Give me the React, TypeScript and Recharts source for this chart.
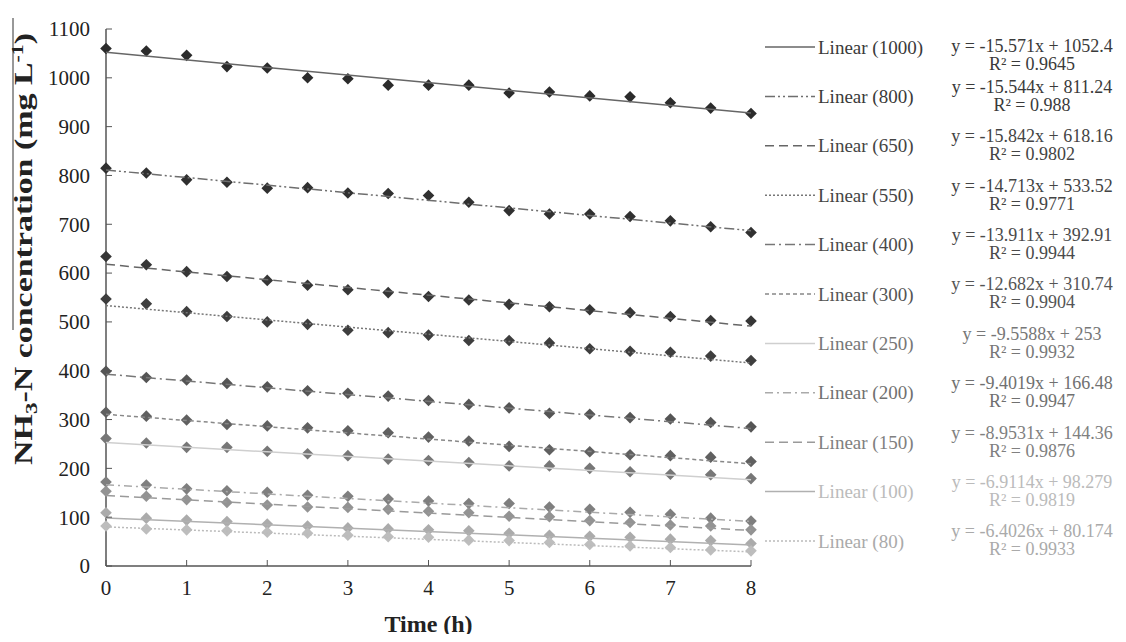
import React from "react";
import { ComposedChart, Scatter, XAxis, YAxis, Legend } from "recharts";

// sampling times (h)
const hours = [0, 0.5, 1, 1.5, 2, 2.5, 3, 3.5, 4, 4.5, 5, 5.5, 6, 6.5, 7, 7.5, 8];
const hourTicks = [0, 1, 2, 3, 4, 5, 6, 7, 8];
const concTicks = [0, 100, 200, 300, 400, 500, 600, 700, 800, 900, 1000, 1100];

// initial NH3-N level of each run (mg/L)
const initialConc = [1000, 800, 650, 550, 400, 300, 250, 200, 150, 100, 80];

const c1000 = [1060, 1055, 1046, 1023, 1020, 1000, 998, 985, 985, 985, 969, 971, 963, 961, 949, 938, 927];
const c800 = [815, 805, 791, 786, 774, 775, 764, 763, 759, 745, 728, 721, 721, 716, 707, 695, 683];
const c650 = [634, 617, 603, 593, 585, 575, 566, 560, 552, 545, 536, 531, 525, 519, 511, 503, 502];
const c550 = [547, 537, 521, 511, 500, 495, 483, 478, 473, 462, 462, 457, 445, 440, 438, 430, 421];
const c400 = [399, 386, 381, 374, 367, 359, 354, 348, 339, 331, 324, 313, 311, 304, 301, 294, 285];
const c300 = [315, 307, 299, 290, 287, 283, 277, 273, 264, 256, 245, 238, 234, 228, 226, 223, 214];
const c250 = [261, 252, 243, 243, 235, 230, 226, 219, 216, 212, 205, 205, 200, 193, 188, 187, 179];
const c200 = [172, 166, 158, 154, 151, 145, 143, 137, 133, 128, 128, 121, 116, 110, 106, 98, 92];
const c150 = [153, 143, 136, 130, 125, 121, 120, 116, 112, 109, 102, 101, 93, 89, 84, 82, 74];
const c100 = [109, 98, 94, 91, 86, 82, 78, 76, 74, 72, 67, 63, 61, 59, 55, 52, 46];
const c80 = [82, 76, 74, 72, 69, 67, 63, 60, 59, 53, 52, 48, 44, 41, 38, 33, 31];
const measured = [c1000, c800, c650, c550, c400, c300, c250, c200, c150, c100, c80];

// linear fits as printed in the legend
const slopes = [-15.571, -15.544, -15.842, -14.713, -13.911, -12.682, -9.5588, -9.4019, -8.9531, -6.9114, -6.4026];
const intercepts = [1052.4, 811.24, 618.16, 533.52, 392.91, 310.74, 253, 166.48, 144.36, 98.279, 80.174];
const rSquared = ["0.9645", "0.988", "0.9802", "0.9771", "0.9944", "0.9904", "0.9932", "0.9947", "0.9876", "0.9819", "0.9933"];

// styles
const SERIF = '"Liberation Serif", "Times New Roman", Times, serif';
const AXIS = "#555";
const markerFill = ["#2b2b2b", "#303030", "#363636", "#3e3e3e", "#555", "#606060", "#777", "#7f7f7f", "#939393", "#ababab", "#bdbdbd"];
const trendStroke = ["#666", "#6e6e6e", "#666", "#777", "#777", "#888", "#cfcfcf", "#aaa", "#9a9a9a", "#b0b0b0", "#bbb"];
const trendDash = ["", "10 3 2 3 2 3", "9 5", "2 2", "10 4 2 4", "4 3", "", "8 4 2 4", "9 5", "", "2 2"];
const textFill = ["#3a3a3a", "#3a3a3a", "#444", "#444", "#4a4a4a", "#555", "#777", "#707070", "#808080", "#bbb", "#aaa"];

const X_GAP = 14;
const Y_GAP = 16;

const XTick = (props: any) => {
  const { x, y, payload } = props;
  const axisY = y - X_GAP;
  return (
    <g>
      <line x1={x} x2={x} y1={axisY} y2={axisY - 6} stroke={AXIS} />
      <text x={x} y={y} dy="0.71em" textAnchor="middle" style={{ fontFamily: SERIF, fontSize: 21, fill: "#222" }}>
        {payload.value}
      </text>
    </g>
  );
};

const YTick = (props: any) => {
  const { x, y, payload } = props;
  const axisX = x + Y_GAP;
  return (
    <g>
      <line x1={axisX} x2={axisX + 6} y1={y} y2={y} stroke={AXIS} />
      <text x={x} y={y} dy="0.35em" textAnchor="end" style={{ fontFamily: SERIF, fontSize: 21, fill: "#222" }}>
        {payload.value}
      </text>
    </g>
  );
};

const YLabel = () => {
  const cx = 15;
  const cy = 241;
  return (
    <g>
      <line x1={5} x2={5} y1={10} y2={322} stroke="#333" strokeWidth={1} />
      <text
        x={cx}
        y={cy}
        dy="0.35em"
        transform={`rotate(-90 ${cx} ${cy})`}
        textAnchor="middle"
        style={{ fontFamily: SERIF, fontWeight: "bold", fontSize: 25, fill: "#222" }}
        textLength={432}
        lengthAdjust="spacingAndGlyphs"
      >
        NH<tspan dy={5} fontSize={17}>3</tspan>
        <tspan dy={-5}>-N concentration (mg L</tspan>
        <tspan dy={-9} fontSize={16}>-1</tspan>
        <tspan dy={9}>)</tspan>
      </text>
    </g>
  );
};

const Diamond = (fill: string) => (props: any) => {
  const { cx, cy } = props;
  if (cx == null || cy == null) return <g />;
  const r = 5.8;
  return <polygon points={`${cx},${cy - r} ${cx + r},${cy} ${cx},${cy + r} ${cx - r},${cy}`} fill={fill} />;
};

const TrendLegend = () => (
  <svg width={361} height={600} style={{ display: "block" }}>
    {initialConc.map((c, i) => {
      const rowY = 39 + i * 49.4;
      const eqY = i === 0 ? rowY - 1 : rowY - 10;
      const txt = { fontFamily: SERIF, fontSize: 18, fill: textFill[i] };
      return (
        <g key={c}>
          <line x1={0} x2={50} y1={rowY} y2={rowY} stroke={trendStroke[i]} strokeWidth={1.5} strokeDasharray={trendDash[i] || undefined} />
          <text x={53} y={rowY} dy="0.35em" style={{ ...txt, fontSize: 19 }}>{`Linear (${c})`}</text>
          <text x={267} y={eqY} dy="0.35em" textAnchor="middle" style={txt}>
            {`y = ${slopes[i]}x + ${intercepts[i]}`}
          </text>
          <text x={267} y={eqY + 18} dy="0.35em" textAnchor="middle" style={txt}>
            {`R² = ${rSquared[i]}`}
          </text>
        </g>
      );
    })}
  </svg>
);

export default function App() {
  const first = hours[0];
  const last = hours[hours.length - 1];
  const series = initialConc.map((c, i) => ({
    name: `${c}`,
    points: hours.map((h, j) => ({ x: h, y: measured[i][j] })),
    trend: [first, last].map((h) => ({ x: h, y: slopes[i] * h + intercepts[i] })),
  }));

  return (
    <div style={{ width: 1110, height: 626 }}>
      <ComposedChart width={1110} height={634} margin={{ top: 21, right: 367, bottom: 2, left: 38 }}>
        <XAxis
          type="number"
          dataKey="x"
          domain={[0, 8]}
          ticks={hourTicks}
          tickSize={0}
          tickMargin={X_GAP}
          tick={<XTick />}
          axisLine={{ stroke: AXIS, strokeWidth: 1.5 }}
          height={74}
          label={{
            value: "Time (h)",
            position: "insideBottom",
            offset: 8,
            style: { fontFamily: SERIF, fontWeight: "bold", fontSize: 24, fill: "#222" },
          }}
        />
        <XAxis
          xAxisId="top"
          orientation="top"
          type="number"
          domain={[0, 8]}
          tick={false}
          tickLine={false}
          height={0}
          axisLine={{ stroke: AXIS, strokeWidth: 1.5 }}
        />
        <YAxis
          type="number"
          dataKey="y"
          domain={[0, 1100]}
          ticks={concTicks}
          tickSize={0}
          tickMargin={Y_GAP}
          tick={<YTick />}
          axisLine={{ stroke: AXIS, strokeWidth: 1.5 }}
          width={60}
          label={<YLabel />}
        />
        <YAxis
          yAxisId="right"
          orientation="right"
          type="number"
          domain={[0, 1100]}
          tick={false}
          tickLine={false}
          width={0}
          axisLine={{ stroke: AXIS, strokeWidth: 1.5 }}
        />
        {series.map((s, i) => (
          <Scatter
            key={`pts-${s.name}`}
            name={s.name}
            data={s.points}
            fill={markerFill[i]}
            shape={Diamond(markerFill[i])}
            isAnimationActive={false}
            legendType="none"
          />
        ))}
        {series.map((s, i) => (
          <Scatter
            key={`fit-${s.name}`}
            name={`Linear (${s.name})`}
            data={s.trend}
            fill={trendStroke[i]}
            line={{ stroke: trendStroke[i], strokeWidth: 1.5, strokeDasharray: trendDash[i] || undefined }}
            shape={() => <g />}
            isAnimationActive={false}
            legendType="none"
          />
        ))}
        <Legend
          layout="vertical"
          align="center"
          verticalAlign="middle"
          wrapperStyle={{ left: 757, top: 0, width: 361, height: 600 }}
          content={() => <TrendLegend />}
        />
      </ComposedChart>
    </div>
  );
}
